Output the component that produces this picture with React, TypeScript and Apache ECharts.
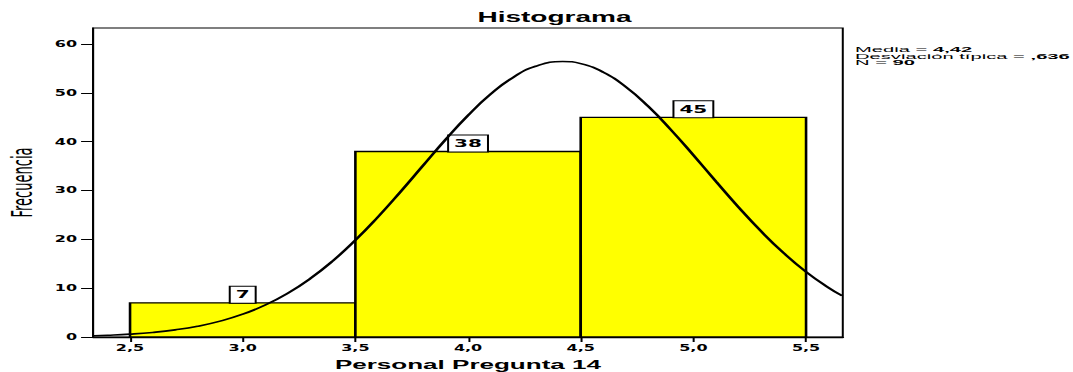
import React, { useEffect, useRef } from "react";
import * as echarts from "echarts";

// ---- data ----
const BIN_STARTS = [2.5, 3.5, 4.5];
const BIN_ENDS = [3.5, 4.5, 5.5];
const COUNTS = [7, 38, 45];

const X_TICK_VALUES = [2.5, 3.0, 3.5, 4.0, 4.5, 5.0, 5.5];
const X_TICK_LABELS = ["2,5", "3,0", "3,5", "4,0", "4,5", "5,0", "5,5"];
const Y_TICK_VALUES = [0, 10, 20, 30, 40, 50, 60];
const Y_TICK_LABELS = ["0", "10", "20", "30", "40", "50", "60"];

// normal curve
const CURVE_X = [
  2.34, 2.4, 2.5, 2.6, 2.7, 2.8, 2.9, 3.0, 3.1, 3.2, 3.3, 3.4, 3.5, 3.6, 3.7, 3.8, 3.9, 4.0, 4.1,
  4.2, 4.3, 4.42, 4.5, 4.6, 4.7, 4.8, 4.9, 5.0, 5.1, 5.2, 5.3, 5.4, 5.5, 5.6, 5.66,
];
const CURVE_Y = [
  0.27, 0.36, 0.59, 0.94, 1.46, 2.2, 3.25, 4.67, 6.55, 8.97, 11.98, 15.6, 19.83, 24.59, 29.74,
  35.1, 40.42, 45.39, 49.74, 53.18, 55.46, 56.45, 56.01, 54.24, 51.24, 47.23, 42.46, 37.25, 31.88,
  26.61, 21.68, 17.23, 13.35, 10.1, 8.44,
];

const TITLE = "Histograma";
const X_NAME = "Personal Pregunta 14";
const Y_NAME = "Frecuencia";
const STATS_LABELS = ["Media = ", "Desviación típica = ", "N = "];
const STATS_VALUES = ["4,42", ",636", "90"];

const W = 536;
const H = 372;
const SX = 1073 / W;

export default function App() {
  const ref = useRef<HTMLDivElement>(null);

  useEffect(() => {
    if (!ref.current) return;
    const chart = echarts.init(ref.current, undefined, { renderer: "svg" });

    const tickFont = {
      fontFamily: "'DejaVu Sans', sans-serif",
      fontWeight: "bold" as const,
      fontSize: 8,
      color: "#000",
    };

    const barData = BIN_STARTS.map((s, i) => [s, BIN_ENDS[i], COUNTS[i]]);
    const curveData = CURVE_X.map((x, i) => [x, CURVE_Y[i]]);

    const statsText = STATS_LABELS.map((l, i) => `{r|${l}}{b|${STATS_VALUES[i]}}`).join("\n");

    chart.setOption({
      animation: false,
      backgroundColor: "#fff",
      title: {
        text: TITLE,
        left: 238.5,
        top: 10,
        padding: 0,
        textStyle: {
          fontFamily: "'Liberation Sans', Arial, sans-serif",
          fontWeight: "bold",
          fontSize: 14,
          color: "#000",
        },
      },
      grid: {
        left: 46.5,
        right: 115,
        top: 28,
        bottom: 35,
        outerBoundsMode: "none",
        containLabel: false,
        show: true,
        borderColor: "#000",
        borderWidth: 1,
        backgroundColor: "#fff",
      },
      xAxis: {
        type: "value",
        min: 2.336,
        max: 5.663,
        name: X_NAME,
        nameLocation: "middle",
        nameGap: 21,
        nameMoveOverlap: false,
        nameTextStyle: {
          fontFamily: "'Liberation Sans', Arial, sans-serif",
          fontWeight: "bold",
          fontSize: 13,
          color: "#000",
        },
        axisLine: { show: true, lineStyle: { color: "#000", width: 1.4 } },
        axisTick: {
          show: true,
          length: 5,
          customValues: X_TICK_VALUES,
          lineStyle: { color: "#000", width: 1 },
        },
        axisLabel: {
          ...tickFont,
          margin: 7,
          customValues: X_TICK_VALUES,
          formatter: (v: number) => {
            const i = X_TICK_VALUES.findIndex((t) => Math.abs(t - v) < 1e-6);
            return i >= 0 ? X_TICK_LABELS[i] : "";
          },
        },
        splitLine: { show: false },
      },
      yAxis: {
        type: "value",
        min: 0,
        max: 63.3,
        name: Y_NAME,
        nameLocation: "middle",
        nameGap: 28,
        nameMoveOverlap: false,
        nameRotate: 90,
        nameTextStyle: {
          fontFamily: "'Liberation Sans Narrow', 'DejaVu Sans Condensed', sans-serif",
          fontSize: 14.5,
          color: "#000",
        },
        axisLine: { show: true, lineStyle: { color: "#000", width: 1 } },
        axisTick: {
          show: true,
          length: 6,
          customValues: Y_TICK_VALUES,
          lineStyle: { color: "#000", width: 1 },
        },
        axisLabel: {
          ...tickFont,
          margin: 8,
          customValues: Y_TICK_VALUES,
          formatter: (v: number) => {
            const i = Y_TICK_VALUES.indexOf(v);
            return i >= 0 ? Y_TICK_LABELS[i] : "";
          },
        },
        splitLine: { show: false },
      },
      graphic: [
        {
          type: "text",
          x: 427.1,
          y: 46.5,
          scaleX: 1.12,
          scaleY: 0.82,
          style: {
            text: statsText,
            align: "left",
            verticalAlign: "top",
            fill: "#000",
            rich: {
              r: {
                fontFamily: "'Liberation Sans', Arial, sans-serif",
                fontSize: 9,
                lineHeight: 7.9,
                fill: "#000",
              },
              b: {
                fontFamily: "'Liberation Sans', Arial, sans-serif",
                fontSize: 9,
                fontWeight: "bold",
                lineHeight: 7.9,
                fill: "#000",
              },
            },
          },
        },
      ],
      series: [
        {
          type: "custom",
          data: barData,
          encode: { x: [0, 1], y: 2 },
          clip: true,
          z: 2,
          renderItem: (params: any, api: any) => {
            const x0 = api.value(0);
            const x1 = api.value(1);
            const c = api.value(2);
            const p0 = api.coord([x0, c]);
            const p1 = api.coord([x1, 0]);
            return {
              type: "group",
              children: [
                {
                  type: "rect",
                  shape: { x: p0[0], y: p0[1], width: p1[0] - p0[0], height: p1[1] - p0[1] },
                  style: { fill: "#ffff00", stroke: "#000", lineWidth: 1.3 },
                },
                {
                  type: "text",
                  z2: 10,
                  style: {
                    text: String(c),
                    x: (p0[0] + p1[0]) / 2,
                    y: p0[1],
                    align: "center",
                    verticalAlign: "bottom",
                    fill: "#000",
                    fontFamily: "'DejaVu Sans', sans-serif",
                    fontWeight: "bold",
                    fontSize: 10,
                    lineHeight: 12,
                    backgroundColor: "#fff",
                    borderColor: "#000",
                    borderWidth: 1,
                    padding: [2, 2.5, 2, 2.5],
                  },
                },
              ],
            };
          },
        },
        {
          type: "line",
          data: curveData,
          smooth: true,
          showSymbol: false,
          symbol: "none",
          clip: true,
          z: 3,
          lineStyle: { color: "#000", width: 1.6 },
          silent: true,
        },
      ],
    });

    return () => chart.dispose();
  }, []);

  return (
    <div
      ref={ref}
      style={{
        position: "absolute",
        left: 0,
        top: 0,
        width: W,
        height: H,
        transform: `scaleX(${SX})`,
        transformOrigin: "0 0",
      }}
    />
  );
}
